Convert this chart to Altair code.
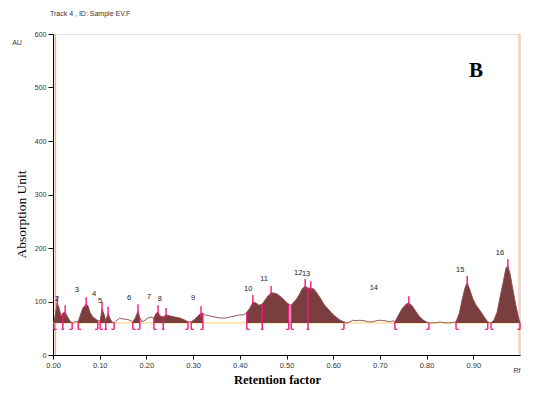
import altair as alt
import pandas as pd

# ---- densitogram trace (Rf, AU) ----
rf = [0.002, 0.009, 0.013, 0.017, 0.021, 0.026, 0.030, 0.036, 0.041, 0.047,
      0.054, 0.058, 0.064, 0.071, 0.075, 0.079, 0.084, 0.088, 0.092, 0.096,
      0.101, 0.105, 0.109, 0.113, 0.118, 0.122, 0.126, 0.131, 0.137, 0.143,
      0.150, 0.156, 0.165, 0.171, 0.176, 0.182, 0.186, 0.191, 0.197, 0.203,
      0.210, 0.216, 0.221, 0.225, 0.229, 0.236, 0.242, 0.251, 0.261, 0.272,
      0.283, 0.289, 0.296, 0.304, 0.310, 0.317, 0.321, 0.325, 0.336, 0.347,
      0.358, 0.368, 0.379, 0.390, 0.400, 0.409, 0.415, 0.422, 0.428, 0.435,
      0.441, 0.448, 0.454, 0.460, 0.467, 0.473, 0.480, 0.486, 0.493, 0.499,
      0.505, 0.510, 0.514, 0.520, 0.527, 0.533, 0.540, 0.546, 0.552, 0.559,
      0.565, 0.572, 0.580, 0.589, 0.597, 0.606, 0.615, 0.623, 0.630, 0.636,
      0.642, 0.649, 0.657, 0.666, 0.675, 0.683, 0.692, 0.700, 0.711, 0.722,
      0.728, 0.732, 0.739, 0.747, 0.756, 0.762, 0.769, 0.775, 0.782, 0.790,
      0.799, 0.805, 0.818, 0.829, 0.839, 0.850, 0.863, 0.870, 0.876, 0.882,
      0.887, 0.893, 0.899, 0.906, 0.912, 0.919, 0.925, 0.931, 0.938, 0.944,
      0.951, 0.957, 0.964, 0.970, 0.974, 0.979, 0.985, 0.991, 0.996, 1.000]
au = [60, 97, 88, 73, 78, 80, 73, 64, 60, 62,
      62, 73, 88, 95, 92, 80, 73, 69, 67, 64,
      64, 86, 77, 65, 77, 69, 62, 60, 65, 69,
      67, 67, 65, 62, 69, 82, 69, 62, 65, 69,
      71, 69, 78, 80, 73, 71, 75, 73, 71, 69,
      65, 62, 62, 67, 73, 78, 78, 75, 73, 71,
      69, 69, 71, 73, 75, 75, 80, 88, 99, 97,
      93, 95, 103, 110, 116, 116, 114, 110, 105, 99,
      95, 93, 97, 103, 112, 123, 129, 125, 125, 123,
      116, 107, 95, 86, 78, 71, 65, 62, 60, 62,
      65, 64, 65, 64, 62, 62, 64, 65, 64, 62,
      64, 62, 73, 86, 95, 97, 92, 84, 75, 67,
      62, 60, 60, 62, 60, 60, 62, 78, 103, 125,
      135, 121, 105, 93, 86, 77, 69, 62, 60, 65,
      80, 107, 136, 163, 166, 151, 121, 93, 73, 60]

BASELINE = 60

# integrated (filled) peak zones
seg_start = [0.002, 0.054, 0.101, 0.171, 0.216, 0.296, 0.415, 0.510, 0.732, 0.863, 0.938]
seg_end = [0.041, 0.096, 0.131, 0.186, 0.289, 0.321, 0.505, 0.623, 0.805, 0.931, 1.000]
mid_bounds = [0.021, 0.113, 0.236, 0.448, 0.546]

# peak maxima marks
peak_rf = [0.009, 0.026, 0.071, 0.105, 0.118, 0.182, 0.225, 0.242, 0.317,
           0.428, 0.467, 0.540, 0.552, 0.762, 0.887, 0.974]
peak_au = [97, 80, 95, 86, 77, 82, 80, 75, 78, 99, 116, 129, 125, 97, 135, 166]

# peak numbers
label_text = ["2", "3", "4", "5", "6", "7", "8", "9", "10", "11", "12", "13", "14", "15", "16"]
label_rf = [0.009, 0.051, 0.088, 0.101, 0.163, 0.206, 0.229, 0.300, 0.418, 0.452,
            0.525, 0.542, 0.687, 0.872, 0.957]
label_au = [101, 118, 110, 97, 103, 105, 101, 103, 120, 138, 150, 148, 121, 155, 187]

x_ticks = [0.0, 0.1, 0.2, 0.3, 0.4, 0.5, 0.6, 0.7, 0.8, 0.9]
y_ticks = [0, 100, 200, 300, 400, 500, 600]

# ---- tables ----
curve = pd.DataFrame({"x": rf, "y": au})
lookup = dict(zip(rf, au))

rows = []
for i, (s, e) in enumerate(zip(seg_start, seg_end)):
    for xv, yv in zip(rf, au):
        if s - 1e-9 <= xv <= e + 1e-9:
            rows.append({"x": xv, "y": yv, "seg": i})
areas = pd.DataFrame(rows)

LOW = 48
FOOT = 0.006
bounds = []
feet = []
for s in seg_start:
    bounds.append({"x": s, "y": lookup[s], "y2": LOW})
    feet.append({"x": s, "x2": min(s + FOOT, 1.0), "y": LOW})
for e in seg_end:
    bounds.append({"x": e, "y": lookup[e], "y2": LOW})
    feet.append({"x": max(e - FOOT, 0), "x2": e, "y": LOW})
for m in mid_bounds:
    bounds.append({"x": m, "y": lookup[m], "y2": LOW})
    feet.append({"x": m - FOOT / 2, "x2": m + FOOT / 2, "y": LOW})
bounds = pd.DataFrame(bounds)
feet = pd.DataFrame(feet)

peaks = pd.DataFrame({"x": peak_rf, "y": [v - 6 for v in peak_au], "y2": [v + 13 for v in peak_au]})
labels = pd.DataFrame({"x": label_rf, "y": label_au, "t": label_text})

xs = alt.Scale(domain=[0, 1.0], nice=False, zero=False)
ys = alt.Scale(domain=[0, 600], nice=False)

xaxis = alt.Axis(values=x_ticks, format=".2f", title="Retention factor", grid=False,
                 titleFont="Liberation Serif", titleFontSize=12.5, titleFontWeight="bold",
                 titleColor="black", titleX=224, titleY=28, titleBaseline="alphabetic",
                 labelFont="Arial", labelFontSize=7.5, labelColor="#333", labelPadding=2,
                 tickSize=4, tickColor="black", domainColor="black", labelFlush=False)
yaxis = alt.Axis(values=y_ticks, format="d", title="Absorption Unit", grid=False,
                 titleFont="Liberation Serif", titleFontSize=13.5, titleFontWeight="normal",
                 titleColor="black", titleX=-28, titleY=180, titleBaseline="alphabetic",
                 titleAngle=270, labelFont="Arial", labelFontSize=7, labelColor="#333",
                 labelPadding=2, tickSize=5, tickColor="black", domainColor="black")

X = alt.X("x:Q", scale=xs, axis=xaxis)
Y = alt.Y("y:Q", scale=ys, axis=yaxis)

PINK_MARK = "#F0177E"
BROWN = "#7A3E3E"

base_line = alt.Chart(pd.DataFrame({"x": [0.0], "x2": [1.0], "y": [BASELINE]})).mark_rule(
    color="#FFE4A8", strokeWidth=1.6).encode(x=X, x2="x2:Q", y=Y)

edges = alt.Chart(pd.DataFrame({"x": [0.005, 0.998], "y": [0, 0], "y2": [600, 600],
                                "c": ["#F2B088", "#FFC8A8"]})).mark_rule(strokeWidth=1.5).encode(
    x=X, y=Y, y2="y2:Q", color=alt.Color("c:N", scale=None))

area = alt.Chart(areas).mark_area(color=BROWN, opacity=1, interpolate="linear").encode(
    x=X, y=Y, y2=alt.Y2(datum=BASELINE), detail="seg:N")

line = alt.Chart(curve).mark_line(color="#8A4A4A", strokeWidth=0.9).encode(x=X, y=Y)

brules = alt.Chart(bounds).mark_rule(color=PINK_MARK, strokeWidth=1.4).encode(x=X, y=Y, y2="y2:Q")
frules = alt.Chart(feet).mark_rule(color=PINK_MARK, strokeWidth=1.2).encode(x=X, x2="x2:Q", y=Y)
prules = alt.Chart(peaks).mark_rule(color=PINK_MARK, strokeWidth=1.4).encode(x=X, y=Y, y2="y2:Q")

ltext = alt.Chart(labels).mark_text(font="Arial", fontSize=7.5, color="#222",
                                    baseline="alphabetic").encode(x=X, y=Y, text="t:N")

bigB = alt.Chart(pd.DataFrame({"x": [0.906], "y": [531], "t": ["B"]})).mark_text(
    font="Liberation Serif", fontSize=21, fontWeight="bold", color="black",
    baseline="middle").encode(x=X, y=Y, text="t:N")

au_txt = alt.Chart(pd.DataFrame({"t": ["AU"]})).mark_text(
    font="Arial", fontSize=7, color="#333", align="center", baseline="middle").encode(
    x=alt.value(-36), y=alt.value(9), text="t:N")
rf_txt = alt.Chart(pd.DataFrame({"t": ["Rf"]})).mark_text(
    font="Arial", fontSize=7, color="#333", align="center", baseline="middle").encode(
    x=alt.value(464), y=alt.value(337), text="t:N")
track_txt = alt.Chart(pd.DataFrame({"t": ["Track  4 , ID: Sample EV.F"]})).mark_text(
    font="Arial", fontSize=7, color="#333", align="left", baseline="middle").encode(
    x=alt.value(-3), y=alt.value(-20), text="t:N")

chart = alt.layer(
    base_line, edges, area, line, brules, frules, prules, ltext, bigB, au_txt, rf_txt, track_txt
).properties(
    width=467, height=321,
    autosize=alt.AutoSizeParams(type="none"),
    padding={"left": 45, "top": 26, "right": 16, "bottom": 34},
).configure_view(fill="#FF80C0", stroke=None).configure(background="white")

chart.save("out.html", embed_options={"renderer": "svg", "actions": False})
